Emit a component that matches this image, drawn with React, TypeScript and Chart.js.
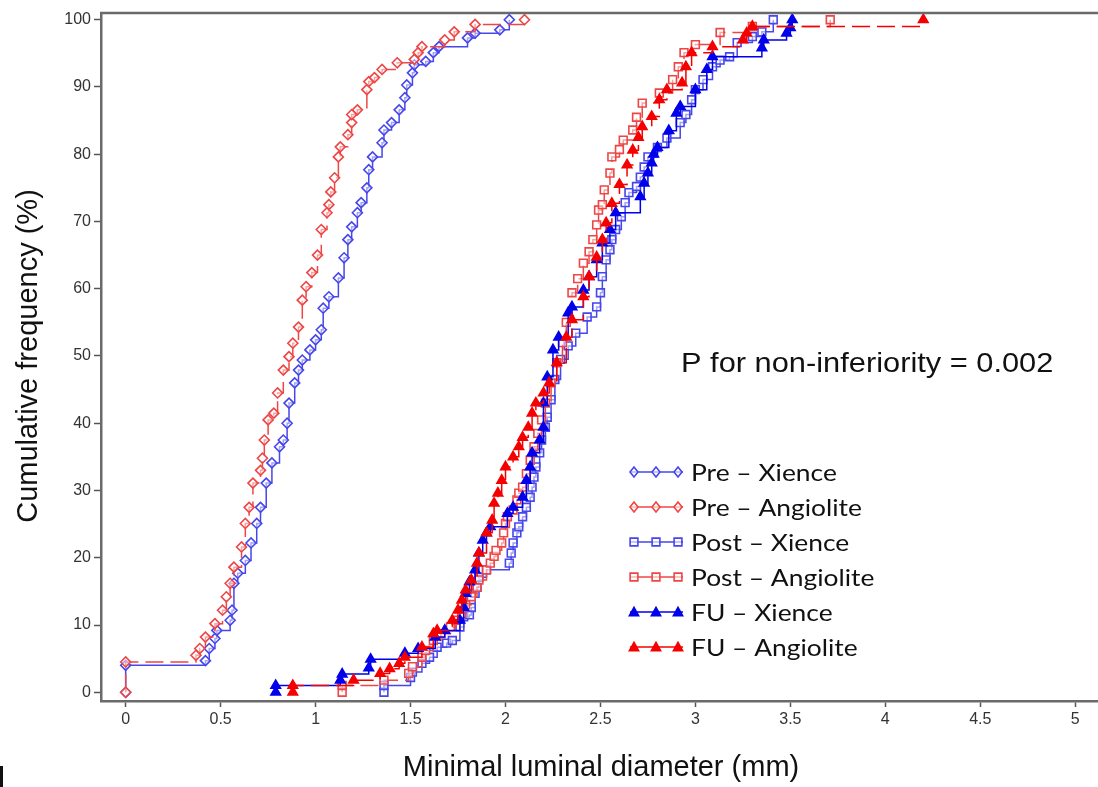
import React, { useEffect, useRef } from "react";
import { Chart, registerables } from "chart.js";

Chart.register(...registerables);

// ---------- data ----------
const preXienceX = [0, 0, 0.42, 0.44, 0.47, 0.48, 0.55, 0.56, 0.57, 0.59, 0.63, 0.66, 0.69, 0.71, 0.74, 0.77, 0.81, 0.83, 0.85, 0.86, 0.89, 0.91, 0.93, 0.97, 1.0, 1.03, 1.04, 1.07, 1.12, 1.15, 1.17, 1.19, 1.22, 1.24, 1.27, 1.28, 1.30, 1.35, 1.36, 1.40, 1.44, 1.47, 1.48, 1.51, 1.52, 1.58, 1.62, 1.65, 1.80, 1.84, 1.97, 2.02];
const preXienceY = [0, 4, 4.7, 6.5, 8, 9.2, 10.7, 12.2, 16.2, 17.7, 19.6, 22.2, 25.1, 27.5, 31.1, 34.1, 36.5, 37.5, 40, 43, 46, 47.9, 49.4, 50.9, 52.4, 53.9, 57.1, 58.8, 61.6, 64.6, 67.3, 69.2, 71.3, 72.8, 75, 77.7, 79.6, 81.7, 83.6, 84.7, 86.6, 88.4, 90.3, 92.1, 93.3, 93.8, 95.1, 96, 97.3, 98, 98.5, 100];

const preAngioliteX = [0, 0, 0.37, 0.39, 0.42, 0.47, 0.51, 0.53, 0.55, 0.57, 0.61, 0.63, 0.65, 0.67, 0.71, 0.72, 0.73, 0.75, 0.78, 0.80, 0.83, 0.86, 0.88, 0.91, 0.93, 0.95, 0.98, 1.01, 1.03, 1.06, 1.07, 1.08, 1.10, 1.12, 1.13, 1.17, 1.19, 1.19, 1.22, 1.27, 1.28, 1.31, 1.35, 1.43, 1.52, 1.54, 1.56, 1.68, 1.73, 1.84, 2.10];
const preAngioliteY = [0, 4.5, 5.5, 6.5, 8.2, 10.2, 12.2, 14.2, 16.2, 18.6, 21.6, 25.1, 27.5, 31.1, 33, 34.8, 37.5, 40.5, 41.5, 44.5, 47.9, 49.9, 51.9, 54.3, 58.3, 60.3, 62.4, 65, 68.8, 71.3, 72.5, 74.4, 76.5, 79.6, 81.1, 82.9, 84.7, 85.9, 86.6, 89.6, 90.8, 91.4, 92.6, 93.6, 94.1, 95.1, 96, 97, 98.2, 99.3, 100];

const postXienceX = [1.36, 1.36, 1.50, 1.51, 1.56, 1.60, 1.64, 1.69, 1.72, 1.76, 1.78, 1.81, 1.82, 1.84, 1.85, 1.86, 1.90, 2.02, 2.03, 2.04, 2.06, 2.07, 2.09, 2.11, 2.13, 2.14, 2.15, 2.16, 2.18, 2.19, 2.21, 2.22, 2.24, 2.26, 2.29, 2.33, 2.37, 2.43, 2.48, 2.50, 2.51, 2.53, 2.55, 2.56, 2.58, 2.61, 2.63, 2.65, 2.69, 2.71, 2.73, 2.75, 2.80, 2.85, 2.92, 2.95, 2.98, 3.00, 3.04, 3.09, 3.13, 3.18, 3.22, 3.30, 3.35, 3.41];
const postXienceY = [0, 1, 2.2, 3, 4.3, 5.2, 6.7, 7.3, 7.7, 9.7, 11.2, 11.5, 12.6, 14.7, 15.6, 17.1, 18.2, 19.2, 20.7, 22.2, 23.7, 24.6, 26.1, 27.5, 29, 30.5, 32, 33.5, 35.6, 37.5, 39.4, 40.9, 43.5, 46.5, 49.5, 51.5, 53.4, 55.8, 57.3, 59.4, 61.8, 64.3, 65.8, 67.3, 68.8, 70.7, 72.8, 74.3, 75.2, 76.6, 78.1, 79.6, 81, 82.4, 84.7, 85.9, 88.1, 89.6, 91.1, 93, 94, 94.5, 96.6, 97.5, 98.2, 100];

const postAngioliteX = [1.14, 1.14, 1.36, 1.49, 1.51, 1.56, 1.58, 1.62, 1.66, 1.71, 1.74, 1.77, 1.79, 1.82, 1.85, 1.86, 1.90, 1.92, 1.94, 1.95, 1.98, 1.99, 2.00, 2.01, 2.04, 2.06, 2.07, 2.09, 2.11, 2.13, 2.15, 2.17, 2.19, 2.21, 2.24, 2.27, 2.30, 2.32, 2.35, 2.38, 2.41, 2.44, 2.46, 2.48, 2.49, 2.51, 2.52, 2.55, 2.56, 2.60, 2.62, 2.67, 2.69, 2.72, 2.81, 2.88, 2.91, 2.94, 3.00, 3.13, 3.30, 3.71];
const postAngioliteY = [0, 1, 1.8, 2.8, 3.8, 5.2, 6.2, 7.7, 8.7, 9.7, 10.7, 11.7, 13, 14.2, 15.6, 16.7, 18.2, 19.2, 20.2, 21.1, 22.2, 23.7, 25.1, 26.1, 27.1, 28.6, 29.6, 30.5, 32.5, 34.5, 36.5, 38.5, 40.5, 43, 46, 49, 52, 55, 59.4, 61.5, 63.8, 65.5, 67.3, 69.5, 71.7, 72.5, 74.7, 77.2, 79.6, 80.7, 82.1, 83.6, 85.5, 87.6, 89.1, 91.1, 93, 95.1, 96.3, 98.1, 99, 100];

const fuXienceX = [0.79, 0.79, 1.13, 1.14, 1.28, 1.29, 1.47, 1.54, 1.63, 1.68, 1.76, 1.78, 1.79, 1.81, 1.84, 1.86, 1.88, 1.90, 1.92, 2.01, 2.04, 2.09, 2.11, 2.13, 2.14, 2.18, 2.20, 2.20, 2.22, 2.25, 2.28, 2.33, 2.35, 2.41, 2.44, 2.48, 2.51, 2.55, 2.58, 2.71, 2.73, 2.75, 2.77, 2.78, 2.80, 2.86, 2.90, 2.92, 3.00, 3.06, 3.09, 3.35, 3.36, 3.48, 3.50, 3.51];
const fuXienceY = [0, 1, 1.8, 2.7, 3.6, 4.9, 5.8, 6.5, 8.2, 9.2, 10.7, 12.6, 14.7, 16.4, 18.2, 20.7, 22.6, 23.7, 24.6, 26.6, 27.5, 29, 31.5, 33.5, 35.6, 37.5, 39.4, 43, 46.9, 50.9, 52.8, 56.4, 57.3, 59.8, 61.8, 64.3, 66.8, 68.8, 71.3, 73.7, 75.7, 77.2, 78.7, 80, 81, 83.5, 86.1, 87.1, 89.6, 92.6, 94.5, 95.8, 97, 98, 98.8, 100];

const fuAngioliteX = [0.88, 0.88, 1.20, 1.34, 1.39, 1.44, 1.47, 1.56, 1.62, 1.64, 1.72, 1.75, 1.77, 1.79, 1.82, 1.85, 1.86, 1.90, 1.93, 1.94, 1.96, 1.98, 2.00, 2.04, 2.07, 2.09, 2.12, 2.14, 2.16, 2.20, 2.23, 2.27, 2.32, 2.35, 2.41, 2.44, 2.48, 2.51, 2.53, 2.56, 2.60, 2.64, 2.67, 2.70, 2.72, 2.77, 2.81, 2.85, 2.93, 2.95, 2.98, 3.09, 3.25, 3.27, 3.30, 4.20];
const fuAngioliteY = [0, 1, 1.8, 2.8, 3.5, 4.3, 5.2, 6.7, 8.7, 9.2, 10.7, 12.2, 13.7, 15.2, 16.7, 19.2, 20.7, 23.7, 25.6, 28.1, 29.6, 31.5, 33.5, 35, 36.5, 37.9, 39.4, 41.5, 43, 44.5, 46, 49, 52.8, 55.4, 58.8, 61.8, 64.7, 67.3, 69.8, 72.7, 75.5, 78.4, 80.6, 82.5, 84.1, 85.6, 88.1, 89.6, 90.6, 93, 95.1, 96, 97, 98, 99, 100];

const seriesLabels = ["Pre – Xience", "Pre – Angiolite", "Post – Xience", "Post – Angiolite", "FU – Xience", "FU – Angiolite"];
const xTickValues = [0, 0.5, 1, 1.5, 2, 2.5, 3, 3.5, 4, 4.5, 5];
const yTickValues = [0, 10, 20, 30, 40, 50, 60, 70, 80, 90, 100];
const xAxisTitle = "Minimal luminal diameter (mm)";
const yAxisTitle = "Cumulative frequency (%)";
const annotationText = "P for non-inferiority = 0.002";

// ---------- styles ----------
const BLUE_H = "rgb(70,70,235)";
const RED_H = "rgb(238,70,70)";
const BLUE_F = "rgb(0,0,235)";
const RED_F = "rgb(245,0,0)";
const DASH = [18, 7];

type Style = { color: string; marker: "rectRot" | "rect" | "triangle"; filled: boolean; dashed: boolean; radius: number };
const styles: Style[] = [
  { color: BLUE_H, marker: "rectRot", filled: false, dashed: false, radius: 5 },
  { color: RED_H, marker: "rectRot", filled: false, dashed: true, radius: 5 },
  { color: BLUE_H, marker: "rect", filled: false, dashed: false, radius: 5.5 },
  { color: RED_H, marker: "rect", filled: false, dashed: true, radius: 5.5 },
  { color: BLUE_F, marker: "triangle", filled: true, dashed: false, radius: 5.5 },
  { color: RED_F, marker: "triangle", filled: true, dashed: true, radius: 5.5 },
];

const seriesData = [
  [preXienceX, preXienceY],
  [preAngioliteX, preAngioliteY],
  [postXienceX, postXienceY],
  [postAngioliteX, postAngioliteY],
  [fuXienceX, fuXienceY],
  [fuAngioliteX, fuAngioliteY],
];

function drawMarker(ctx: CanvasRenderingContext2D, s: Style, x: number, y: number) {
  const r = s.radius;
  ctx.beginPath();
  if (s.marker === "rectRot") {
    ctx.moveTo(x, y - r);
    ctx.lineTo(x + r * 0.8, y);
    ctx.lineTo(x, y + r);
    ctx.lineTo(x - r * 0.8, y);
    ctx.closePath();
  } else if (s.marker === "rect") {
    const h = r * Math.SQRT1_2;
    ctx.rect(x - h, y - h, 2 * h, 2 * h);
  } else {
    const h = 4.6;
    ctx.moveTo(x, y - h);
    ctx.lineTo(x + h, y + h * 0.8);
    ctx.lineTo(x - h, y + h * 0.8);
    ctx.closePath();
  }
  if (s.filled) {
    ctx.fillStyle = s.color;
    ctx.fill();
  } else {
    ctx.fillStyle = "rgba(255,255,255,0.6)";
    ctx.fill();
  }
  ctx.setLineDash([]);
  ctx.lineWidth = 1.6;
  ctx.strokeStyle = s.color;
  ctx.stroke();
}

const overlayPlugin = {
  id: "overlay",
  afterDraw(chart: any) {
    const ctx: CanvasRenderingContext2D = chart.ctx;
    const a = chart.chartArea;
    ctx.save();
    // top frame line
    ctx.strokeStyle = "#6a6a6a";
    ctx.lineWidth = 2.5;
    ctx.beginPath();
    ctx.moveTo(a.left - 1, a.top);
    ctx.lineTo(a.right, a.top);
    ctx.stroke();

    // axis titles
    ctx.fillStyle = "#111";
    ctx.textAlign = "center";
    ctx.textBaseline = "middle";
    ctx.font = '29px "Liberation Sans", Arial, sans-serif';
    ctx.fillText(xAxisTitle, 601, 768);
    ctx.save();
    ctx.translate(29, 356);
    ctx.rotate(-Math.PI / 2);
    ctx.fillText(yAxisTitle, 0, 0);
    ctx.restore();

    // annotation
    ctx.save();
    ctx.textAlign = "left";
    ctx.font = '28px "Liberation Sans", Arial, sans-serif';
    ctx.translate(681, 364);
    ctx.scale(1.1, 1);
    ctx.fillText(annotationText, 0, 0);
    ctx.restore();

    // legend
    const rowY0 = 472;
    const rowStep = 35;
    ctx.font = '24px Lato, "Open Sans", sans-serif';
    seriesLabels.forEach((label, i) => {
      const s = styles[i];
      const y = rowY0 + i * rowStep;
      ctx.strokeStyle = s.color;
      ctx.lineWidth = 1.5;
      ctx.setLineDash([]);
      ctx.beginPath();
      ctx.moveTo(630, y);
      ctx.lineTo(683, y);
      ctx.stroke();
      [634, 656, 678].forEach((mx) => drawMarker(ctx, s, mx, y));
      ctx.save();
      ctx.fillStyle = "#111";
      ctx.textAlign = "left";
      ctx.textBaseline = "middle";
      ctx.translate(691, y + 1);
      ctx.scale(1.1, 1);
      ctx.fillText(label, 0, 0);
      ctx.restore();
    });

    // small dark mark at the lower left corner
    ctx.fillStyle = "#111";
    ctx.fillRect(0, 766, 3, 21);
    ctx.restore();
  },
};

export default function App() {
  const ref = useRef<HTMLCanvasElement | null>(null);
  useEffect(() => {
    document.body.style.margin = "0";
    if (!ref.current) return;
    const datasets = seriesData.map(([xs, ys], i) => {
      const s = styles[i];
      return {
        label: seriesLabels[i],
        data: xs.map((x, k) => ({ x, y: ys[k] })),
        stepped: "before" as const,
        borderColor: s.color,
        borderWidth: 1.5,
        borderDash: s.dashed ? DASH : [],
        pointStyle: s.marker,
        pointRadius: s.radius,
        pointBorderWidth: 1.6,
        pointBorderColor: s.color,
        pointBackgroundColor: s.filled ? s.color : "rgba(255,255,255,0.5)",
        fill: false,
        order: 5 - i,
      };
    });
    const tickFont = { family: '"Liberation Sans", Arial, sans-serif', size: 16 };
    const chart = new Chart(ref.current, {
      type: "line",
      data: { datasets },
      options: {
        animation: false,
        responsive: false,
        devicePixelRatio: 1,
        layout: { padding: { top: 13, left: 0, right: 0, bottom: 0 }, autoPadding: false },
        plugins: { legend: { display: false }, tooltip: { enabled: false } },
        scales: {
          x: {
            type: "linear",
            min: -0.13,
            max: 5.12,
            afterBuildTicks: (s: any) => {
              s.ticks = xTickValues.map((v) => ({ value: v }));
            },
            afterFit: (s: any) => {
              s.height = 86;
            },
            grid: { drawOnChartArea: false, drawTicks: true, tickLength: 6, tickColor: "#555", tickWidth: 1.5 },
            border: { color: "#6a6a6a", width: 2.5 },
            ticks: { color: "#333", font: tickFont, padding: 3, maxRotation: 0, autoSkip: false, callback: (v: any) => String(v) },
          },
          y: {
            type: "linear",
            min: -1.3,
            max: 101,
            afterBuildTicks: (s: any) => {
              s.ticks = yTickValues.map((v) => ({ value: v }));
            },
            afterFit: (s: any) => {
              s.width = 101;
            },
            grid: { drawOnChartArea: false, drawTicks: true, tickLength: 7, tickColor: "#555", tickWidth: 1.5 },
            border: { color: "#6a6a6a", width: 2.5 },
            ticks: { color: "#333", font: tickFont, padding: 3, autoSkip: false, callback: (v: any) => String(v) },
          },
        },
      },
      plugins: [overlayPlugin],
    } as any);
    return () => chart.destroy();
  }, []);
  return (
    <div style={{ width: 1098, height: 787, background: "#fff" }}>
      <canvas ref={ref} width={1098} height={787} style={{ display: "block" }} />
    </div>
  );
}
